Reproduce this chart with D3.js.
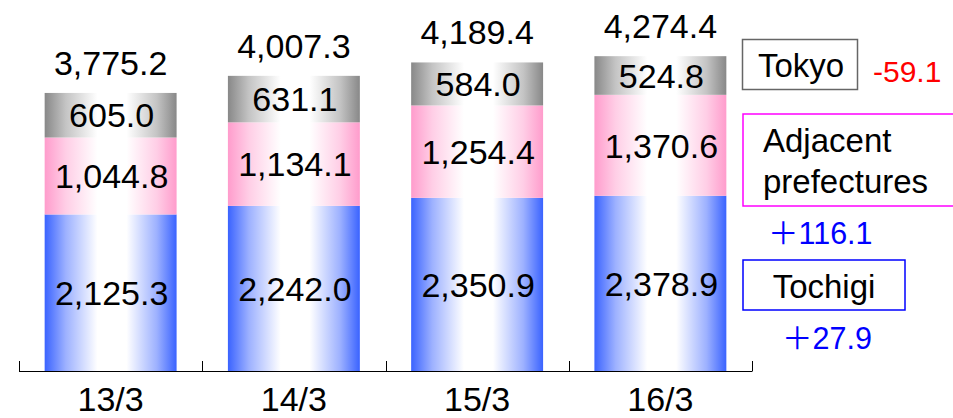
<!DOCTYPE html>
<html><head><meta charset="utf-8">
<script src="https://cdn.jsdelivr.net/npm/d3@7/dist/d3.min.js"></script>
<style>body{margin:0;background:#fff}svg{display:block}text{font-family:"Liberation Sans",Arial,sans-serif}</style>
</head><body><svg id="c" width="953" height="418"></svg>
<script>
const categories = ["13/3","14/3","15/3","16/3"];
const tochigi = [2125.3, 2242.0, 2350.9, 2378.9];
const adjacent = [1044.8, 1134.1, 1254.4, 1370.6];
const tokyo = [605.0, 631.1, 584.0, 524.8];
const totals = [3775.2, 4007.3, 4189.4, 4274.4];
const seriesNames = ["Tochigi","Adjacent prefectures","Tokyo"];
const changes = ["＋27.9","＋116.1","-59.1"];

const svg = d3.select("#c");
const x = d3.scaleBand().domain(categories).range([19,752]).paddingInner(0.28).paddingOuter(0.14);
const y = d3.scaleLinear().domain([0,5037]).range([371,0]);
const fmt = d3.format(",.1f");

const colors = ["#3a63ff","#ff9ccc","#888888"];
const defs = svg.append("defs");
colors.forEach((c,i)=>{
  const mid = d3.interpolateRgb(c,"#fff")(0.5);
  const g = defs.append("linearGradient").attr("id","g"+i).attr("x1","0").attr("x2","1").attr("y1","0").attr("y2","0");
  [[0,c],[0.16,mid],[0.4,"#fff"],[0.62,"#fff"],[0.85,mid],[1,c]].forEach(s=>
    g.append("stop").attr("offset",s[0]).attr("stop-color",s[1]));
});

const rows = categories.map((c,i)=>({cat:c, Tochigi:tochigi[i], Adjacent:adjacent[i], Tokyo:tokyo[i]}));
const stack = d3.stack().keys(["Tochigi","Adjacent","Tokyo"])(rows);

stack.forEach((layer,li)=>{
  const g = svg.append("g");
  g.selectAll("rect").data(layer).join("rect")
    .attr("x",d=>x(d.data.cat)).attr("width",x.bandwidth())
    .attr("y",d=>y(d[1])).attr("height",d=>y(d[0])-y(d[1]))
    .attr("fill","url(#g"+li+")");
  g.selectAll("text").data(layer).join("text")
    .attr("x",d=>x(d.data.cat)+x.bandwidth()/2+1)
    .attr("y",d=>(y(d[0])+y(d[1]))/2).attr("dy","0.36em")
    .attr("text-anchor","middle").attr("font-size",34).attr("fill","#000")
    .text(d=>fmt(d[1]-d[0]));
});

svg.append("g").selectAll("text").data(totals).join("text")
  .attr("x",(d,i)=>x(categories[i])+x.bandwidth()/2)
  .attr("y",d=>y(d)-18).attr("text-anchor","middle").attr("font-size",34)
  .text(d=>fmt(d));

// axis
const ax = svg.append("g").attr("stroke","#000").attr("stroke-width",1);
ax.append("line").attr("x1",19).attr("x2",752).attr("y1",371.5).attr("y2",371.5);
d3.range(categories.length+1).forEach(i=>{
  const xx = Math.round(19 + i*x.step())+0.5;
  ax.append("line").attr("x1",xx).attr("x2",xx).attr("y1",361).attr("y2",371.5);
});
svg.append("g").selectAll("text").data(categories).join("text")
  .attr("x",d=>x(d)+x.bandwidth()/2).attr("y",411)
  .attr("text-anchor","middle").attr("font-size",34).text(d=>d);

// legend
function change(sel, s){
  if (s[0]==="＋"){
    sel.append("tspan").attr("font-family","'Noto Sans CJK JP'").text("＋");
    sel.append("tspan").text(s.slice(1));
  } else sel.text(s);
}
const L = svg.append("g");
L.append("rect").attr("x",742.5).attr("y",39.5).attr("width",115).attr("height",50).attr("fill","#fff").attr("stroke","#666").attr("stroke-width",1.5);
L.append("text").attr("x",801).attr("y",77).attr("text-anchor","middle").attr("font-size",33).text(seriesNames[2]);
change(L.append("text").attr("x",873).attr("y",82).attr("font-size",30).attr("fill","#ff0000"), changes[2]);

L.append("rect").attr("x",743).attr("y",114).attr("width",230).attr("height",92).attr("fill","#fff").attr("stroke","#ff00ff").attr("stroke-width",1.5);
const parts = seriesNames[1].split(" ");
L.append("text").attr("x",763).attr("y",152).attr("font-size",33).text(parts[0]);
L.append("text").attr("x",763).attr("y",193).attr("font-size",33).text(parts[1]);
change(L.append("text").attr("x",768).attr("y",244).attr("font-size",30.5).attr("fill","#0000ff"), changes[1]);

L.append("rect").attr("x",743).attr("y",260).attr("width",162).attr("height",50).attr("fill","#fff").attr("stroke","#0000ff").attr("stroke-width",1.5);
L.append("text").attr("x",824).attr("y",298).attr("text-anchor","middle").attr("font-size",33).text(seriesNames[0]);
change(L.append("text").attr("x",782).attr("y",349).attr("font-size",30.5).attr("fill","#0000ff"), changes[0]);
</script></body></html>
